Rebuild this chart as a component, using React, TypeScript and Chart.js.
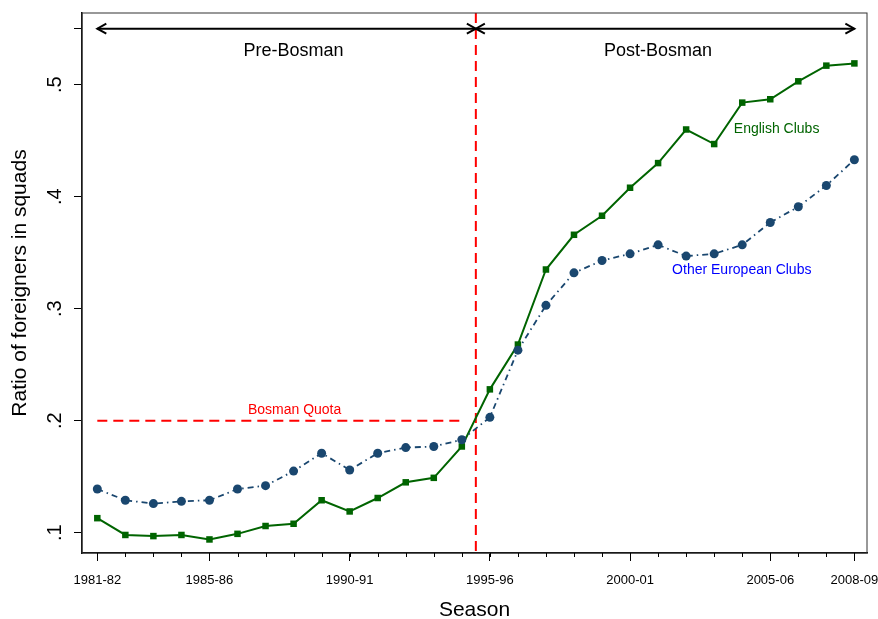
import { useEffect, useRef } from "react"
import { Chart, registerables, type ChartConfiguration, type Plugin } from "chart.js"

Chart.register(...registerables)

const FONT = "'Liberation Sans', Arial, Helvetica, sans-serif"

// seasons on the x axis (index = position)
const seasons = [
  "1981-82", "1982-83", "1983-84", "1984-85", "1985-86", "1986-87", "1987-88",
  "1988-89", "1989-90", "1990-91", "1991-92", "1992-93", "1993-94", "1994-95",
  "1995-96", "1996-97", "1997-98", "1998-99", "1999-00", "2000-01", "2001-02",
  "2002-03", "2003-04", "2004-05", "2005-06", "2006-07", "2007-08", "2008-09",
]
const labelledSeasons = [0, 4, 9, 14, 19, 24, 27]

// ratio of foreigners in squads
const englishClubs = [
  0.113, 0.098, 0.097, 0.098, 0.094, 0.099, 0.106, 0.108, 0.129, 0.119, 0.131, 0.145, 0.149, 0.177,
  0.228, 0.268, 0.335, 0.366, 0.383, 0.408, 0.43, 0.46, 0.447, 0.484, 0.487, 0.503, 0.517, 0.519,
]
const otherEuropeanClubs = [
  0.139, 0.129, 0.126, 0.128, 0.129, 0.139, 0.142, 0.155, 0.171, 0.156, 0.171, 0.176, 0.177, 0.183,
  0.203, 0.263, 0.303, 0.332, 0.343, 0.349, 0.357, 0.347, 0.349, 0.357, 0.377, 0.391, 0.41, 0.433,
]

const yTicks = [0.1, 0.2, 0.3, 0.4, 0.5, 0.55]
const yTickLabels = [".1", ".2", ".3", ".4", ".5", ""]

// reference marks
const bosmanQuota = 0.2
const quotaFrom = 0
const quotaTo = 13
const bosmanRuling = 13.5
const periodArrowY = 0.55

const GREEN = "#006400"
const NAVY = "#1a476f"
const RED = "#ff0000"

const arrowHead = (ctx: CanvasRenderingContext2D, x: number, y: number, dir: number) => {
  ctx.beginPath()
  ctx.moveTo(x - dir * 9, y - 5)
  ctx.lineTo(x, y)
  ctx.lineTo(x - dir * 9, y + 5)
  ctx.stroke()
}

const referencePlugin: Plugin = {
  id: "bosmanRefs",
  beforeDatasetsDraw(chart) {
    const { ctx, chartArea, scales } = chart
    const x = scales.x
    const y = scales.y
    ctx.save()
    ctx.strokeStyle = RED
    ctx.lineWidth = 2
    ctx.setLineDash([10, 6])
    // Bosman quota
    ctx.beginPath()
    ctx.moveTo(x.getPixelForValue(quotaFrom), y.getPixelForValue(bosmanQuota))
    ctx.lineTo(x.getPixelForValue(quotaTo), y.getPixelForValue(bosmanQuota))
    ctx.stroke()
    // ruling
    const rx = x.getPixelForValue(bosmanRuling)
    ctx.beginPath()
    ctx.moveTo(rx, chartArea.top)
    ctx.lineTo(rx, chartArea.bottom)
    ctx.stroke()
    ctx.restore()
  },
  afterDraw(chart) {
    const { ctx, chartArea, scales } = chart
    const x = scales.x
    const y = scales.y
    ctx.save()

    // frame top / right
    ctx.strokeStyle = "#333"
    ctx.lineWidth = 1
    ctx.strokeRect(chartArea.left, chartArea.top, chartArea.right - chartArea.left, chartArea.bottom - chartArea.top)

    // minor ticks for every season
    ctx.strokeStyle = "#000"
    ctx.lineWidth = 1
    seasons.forEach((_, i) => {
      const px = Math.round(x.getPixelForValue(i)) + 0.5
      ctx.beginPath()
      ctx.moveTo(px, chartArea.bottom)
      ctx.lineTo(px, chartArea.bottom + 4)
      ctx.stroke()
    })

    // period arrows
    const ay = y.getPixelForValue(periodArrowY)
    const x0 = x.getPixelForValue(0)
    const xm = x.getPixelForValue(bosmanRuling)
    const x1 = x.getPixelForValue(seasons.length - 1)
    ctx.strokeStyle = "#000"
    ctx.lineWidth = 2
    ctx.beginPath()
    ctx.moveTo(x0, ay)
    ctx.lineTo(x1, ay)
    ctx.stroke()
    arrowHead(ctx, x0, ay, -1)
    arrowHead(ctx, xm, ay, 1)
    arrowHead(ctx, xm, ay, -1)
    arrowHead(ctx, x1, ay, 1)

    // text annotations
    ctx.textBaseline = "middle"
    ctx.font = `18px ${FONT}`
    ctx.fillStyle = "#000"
    ctx.textAlign = "center"
    ctx.fillText("Pre-Bosman", x.getPixelForValue(7), y.getPixelForValue(0.53))
    ctx.fillText("Post-Bosman", x.getPixelForValue(20), y.getPixelForValue(0.53))

    ctx.font = `14px ${FONT}`
    ctx.textAlign = "left"
    ctx.fillStyle = GREEN
    ctx.fillText("English Clubs", x.getPixelForValue(22.7), y.getPixelForValue(0.4605))
    ctx.fillStyle = "#0000ff"
    ctx.fillText("Other European Clubs", x.getPixelForValue(20.5), y.getPixelForValue(0.334))
    ctx.fillStyle = RED
    ctx.fillText("Bosman Quota", x.getPixelForValue(5.37), y.getPixelForValue(0.209))

    // rotated y tick labels
    ctx.fillStyle = "#000"
    ctx.font = `20px ${FONT}`
    ctx.textAlign = "center"
    yTicks.forEach((v, i) => {
      if (!yTickLabels[i]) return
      ctx.save()
      ctx.translate(55, y.getPixelForValue(v))
      ctx.rotate(-Math.PI / 2)
      ctx.fillText(yTickLabels[i], 0, 0)
      ctx.restore()
    })

    // axis titles
    ctx.font = `21px ${FONT}`
    ctx.save()
    ctx.translate(20, (chartArea.top + chartArea.bottom) / 2)
    ctx.rotate(-Math.PI / 2)
    ctx.fillText("Ratio of foreigners in squads", 0, 0)
    ctx.restore()
    ctx.fillText("Season", (chartArea.left + chartArea.right) / 2, 610)

    ctx.restore()
  },
}

export default function App() {
  const canvasRef = useRef<HTMLCanvasElement>(null)

  useEffect(() => {
    if (!canvasRef.current) return
    document.body.style.margin = "0"
    Chart.defaults.font.family = FONT

    const config: ChartConfiguration<"line"> = {
      type: "line",
      data: {
        datasets: [
          {
            label: "Other European Clubs",
            data: otherEuropeanClubs.map((v, i) => ({ x: i, y: v })),
            borderColor: NAVY,
            backgroundColor: NAVY,
            borderWidth: 1.8,
            borderDash: [6, 4, 1.5, 4],
            pointStyle: "circle",
            pointRadius: 4.5,
            pointBorderWidth: 0,
            tension: 0,
          },
          {
            label: "English Clubs",
            data: englishClubs.map((v, i) => ({ x: i, y: v })),
            borderColor: GREEN,
            backgroundColor: GREEN,
            borderWidth: 2,
            pointStyle: "rect",
            pointRadius: 4.6,
            pointBorderWidth: 0,
            tension: 0,
          },
        ],
      },
      options: {
        responsive: false,
        animation: false,
        layout: { padding: { top: 13, right: 11, left: 0, bottom: 0 } },
        plugins: {
          legend: { display: false },
          tooltip: { enabled: false },
        },
        scales: {
          x: {
            type: "linear",
            min: -0.546,
            max: 27.45,
            afterBuildTicks: (axis) => {
              axis.ticks = labelledSeasons.map((i) => ({ value: i }))
            },
            afterFit: (axis) => {
              axis.height = 66
              axis.paddingLeft = 0
              axis.paddingRight = 0
            },
            ticks: {
              autoSkip: false,
              maxRotation: 0,
              minRotation: 0,
              padding: 12,
              color: "#000",
              font: { size: 13 },
              callback: (value) => seasons[Number(value)] ?? "",
            },
            grid: { drawOnChartArea: false, tickLength: 8, color: "#000", tickWidth: 1 },
            border: { display: true, color: "#000", width: 1.5 },
          },
          y: {
            type: "linear",
            min: 0.0819,
            max: 0.564,
            afterBuildTicks: (axis) => {
              axis.ticks = yTicks.map((v) => ({ value: v }))
            },
            afterFit: (axis) => {
              axis.width = 82
            },
            ticks: { display: false },
            grid: { drawOnChartArea: false, tickLength: 8, color: "#000", tickWidth: 1 },
            border: { display: true, color: "#000", width: 1.5 },
          },
        },
      },
      plugins: [referencePlugin],
    }

    const chart = new Chart(canvasRef.current, config)
    return () => chart.destroy()
  }, [])

  return (
    <div style={{ width: 878, height: 619, background: "#fff" }}>
      <canvas ref={canvasRef} width={878} height={619}></canvas>
    </div>
  )
}
